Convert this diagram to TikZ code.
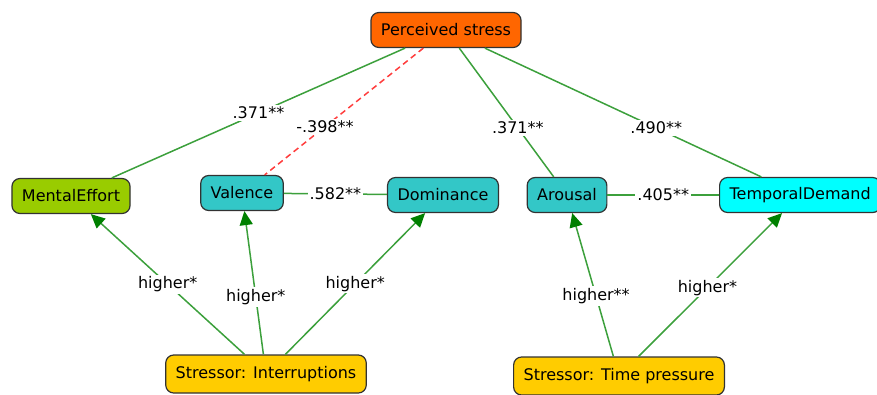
\documentclass[tikz,border=0pt]{standalone}
\usepackage{fontspec}
\setmainfont{DejaVu Sans}
\usetikzlibrary{arrows.meta}
\definecolor{stressfill}{RGB}{255,102,0}
\definecolor{effortfill}{RGB}{153,204,0}
\definecolor{affectfill}{RGB}{51,199,199}
\definecolor{demandfill}{RGB}{0,255,255}
\definecolor{stressorfill}{RGB}{255,204,0}
\definecolor{edgegreen}{RGB}{60,160,60}
\definecolor{tipgreen}{RGB}{0,128,0}
\definecolor{negred}{RGB}{255,60,60}
\definecolor{frame}{RGB}{50,50,50}

\begin{document}
\begin{tikzpicture}[
        x={(1pt,0pt)},
        y={(0pt,-1pt)},
        font=\fontsize{16}{19}\selectfont,
        v/.style={rectangle, rounded corners=8pt, draw=frame, line width=1.2pt, minimum height=35pt, inner xsep=10pt},
        corr/.style={line width=1.5pt, edgegreen},
        neg/.style={corr, negred, dash pattern=on 6pt off 4pt},
        effect/.style={-{Triangle[length=14pt,width=13pt,color=tipgreen]}, line width=1.5pt, edgegreen},
        lab/.style={fill=white, inner sep=2pt, text=black},
        ]
        \useasboundingbox (0,0) rectangle (877,394);

        \node(stress)[v, fill=stressfill] at (446,30) {Perceived stress};
        \node(effort)[v, fill=effortfill] at (71,196) {MentalEffort};
        \node(valence)[v, fill=affectfill] at (242,193) {Valence};
        \node(dominance)[v, fill=affectfill] at (443,195) {Dominance};
        \node(arousal)[v, fill=affectfill] at (567,195) {Arousal};
        \node(demand)[v, fill=demandfill, anchor=west] at (719,195) {TemporalDemand};
        \node(interrupt)[v, fill=stressorfill, minimum height=38pt] at (266,374) {Stressor: Interruptions};
        \node(timepress)[v, fill=stressorfill, minimum height=38pt] at (619,376) {Stressor: Time pressure};

        % correlations with perceived stress
        \draw[corr](stress)--node[lab,pos=.5]{.371**}(effort);
        \draw[neg](stress)--node[lab,pos=.62]{-.398**}(valence);
        \draw[corr](stress)--node[lab,pos=.62]{.371**}(arousal);
        \draw[corr](stress)--node[lab,pos=.62]{.490**}(demand);
        \draw[corr](valence)--node[lab]{.582**}(dominance);
        \draw[corr](arousal)--node[lab]{.405**}(demand);

        % stressor effects
        \draw[effect](interrupt)--node[lab,pos=.5]{higher*}(effort);
        \draw[effect](interrupt)--node[lab,pos=.4]{higher*}(valence);
        \draw[effect](interrupt)--node[lab,pos=.5]{higher*}(dominance);
        \draw[effect](timepress)--node[lab,pos=.42]{higher**}(arousal);
        \draw[effect](timepress)--node[lab,pos=.48]{higher*}(demand);

      \end{tikzpicture}
\end{document}
